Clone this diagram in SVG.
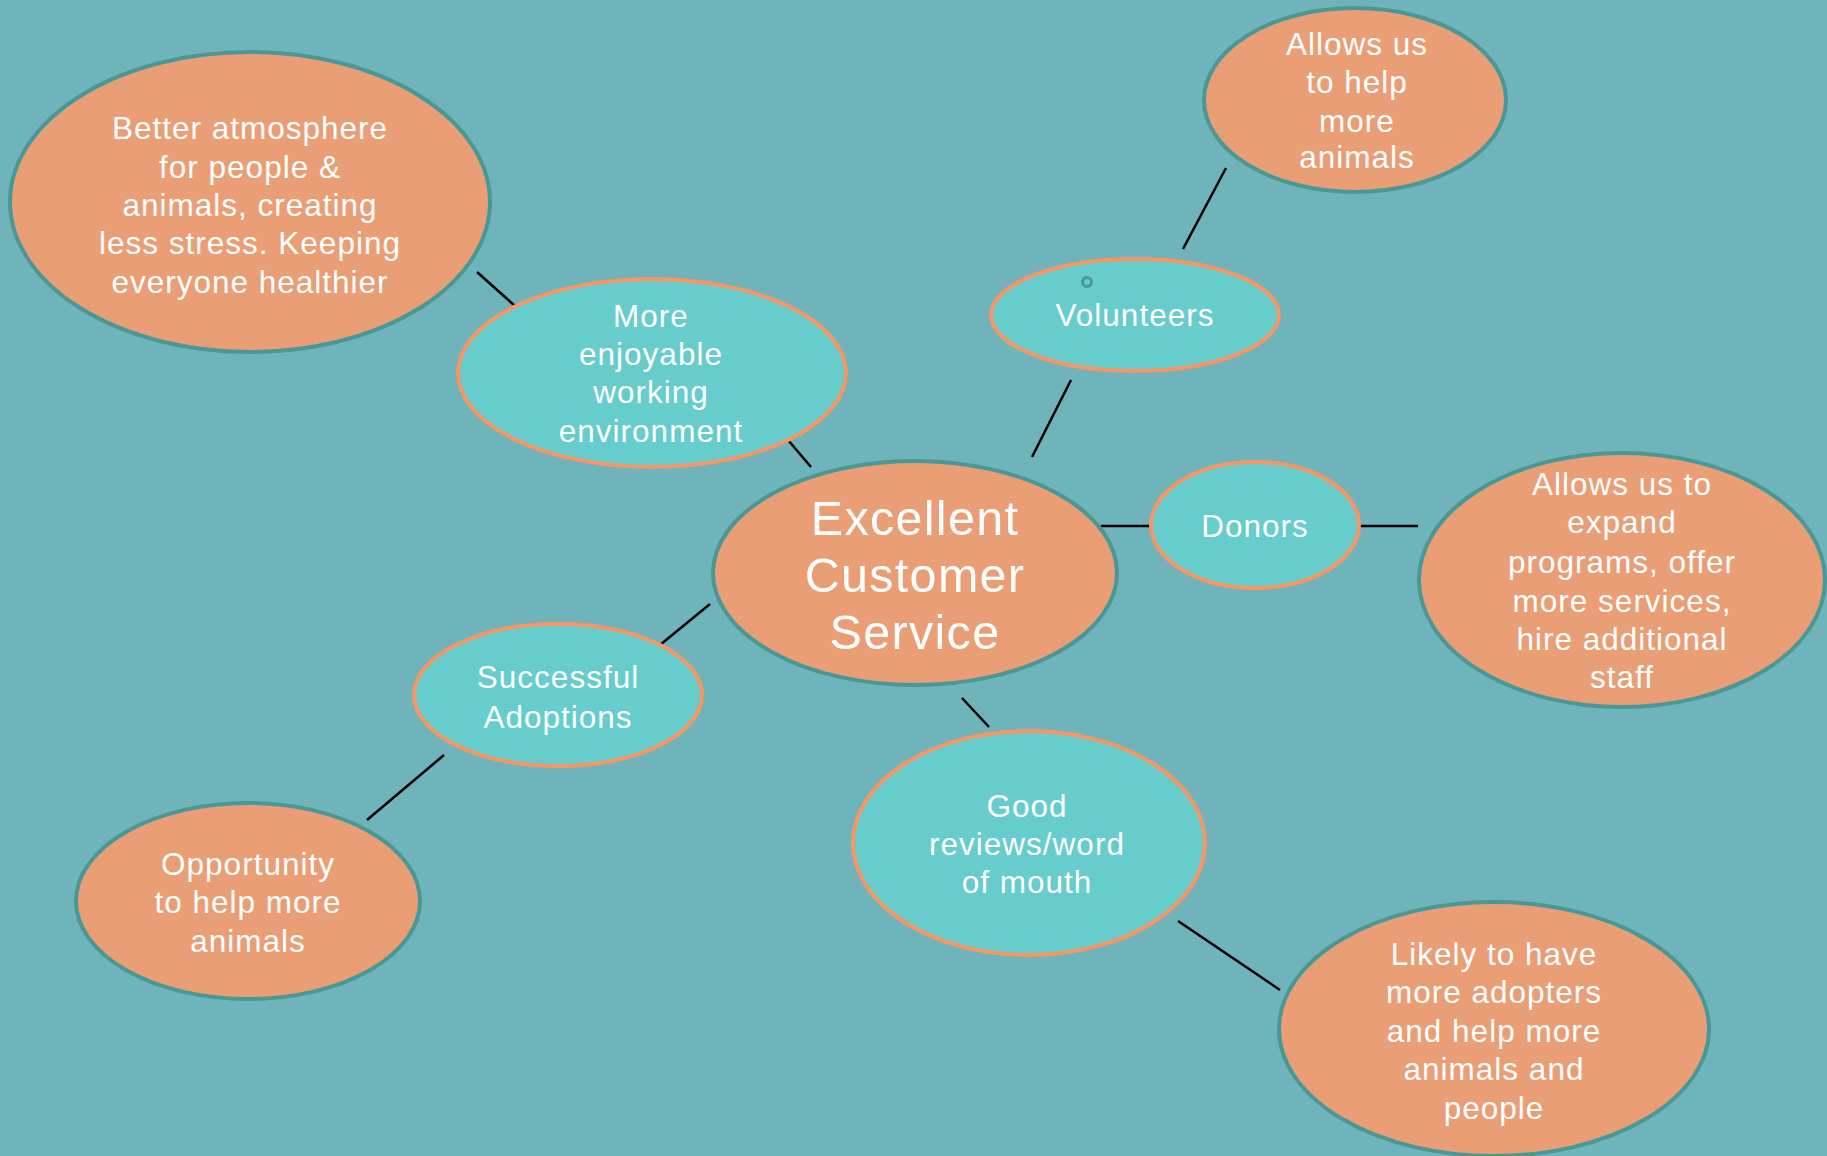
<svg xmlns="http://www.w3.org/2000/svg" width="1827" height="1156" viewBox="0 0 1827 1156">
  <style>
    .bg { fill: #6FB3BB; }
    .outcome { fill: #EA9E75; stroke: #4A9896; stroke-width: 4; }
    .factor { fill: #66CCCC; stroke: #F79664; stroke-width: 4; }
    .label { font-family: "Liberation Sans", Arial, sans-serif; font-size: 31.5px; letter-spacing: 1px; fill: #FFFFFF; text-anchor: middle; }
    .title { font-size: 48.5px; letter-spacing: 1.3px; }
    .link { stroke: #000000; stroke-width: 2.5; fill: none; }
  </style>

  <rect class="bg" x="0" y="0" width="1827" height="1156"/>

  <!-- connectors -->
  <g id="connectors">
    <line class="link" x1="477" y1="272" x2="515" y2="306"/>
    <line class="link" x1="788" y1="440" x2="811" y2="467"/>
    <line class="link" x1="1226" y1="168" x2="1183" y2="249"/>
    <line class="link" x1="1071" y1="380" x2="1032" y2="457"/>
    <line class="link" x1="1101" y1="526" x2="1150" y2="526"/>
    <line class="link" x1="1360" y1="526" x2="1418" y2="526"/>
    <line class="link" x1="660" y1="645" x2="710" y2="604"/>
    <line class="link" x1="444" y1="755" x2="367" y2="820"/>
    <line class="link" x1="962" y1="698" x2="989" y2="727"/>
    <line class="link" x1="1178" y1="921" x2="1280" y2="990"/>
  </g>

  <!-- central topic -->
  <g id="node-excellent-customer-service">
    <ellipse class="outcome" cx="915" cy="573" rx="202" ry="112"/>
    <text class="label title"><tspan x="915" y="535">Excellent</tspan><tspan x="915" y="592">Customer</tspan><tspan x="915" y="649">Service</tspan></text>
  </g>

  <g id="node-better-atmosphere">
    <ellipse class="outcome" cx="250" cy="202" rx="240" ry="150"/>
    <text class="label"><tspan x="250" y="139">Better atmosphere</tspan><tspan x="250" y="178">for people &amp;</tspan><tspan x="250" y="216">animals, creating</tspan><tspan x="250" y="254">less stress. Keeping</tspan><tspan x="250" y="293">everyone healthier</tspan></text>
  </g>

  <g id="node-working-environment">
    <ellipse class="factor" cx="652" cy="373" rx="194" ry="94"/>
    <text class="label"><tspan x="651" y="327">More</tspan><tspan x="651" y="365">enjoyable</tspan><tspan x="651" y="403">working</tspan><tspan x="651" y="442">environment</tspan></text>
  </g>

  <g id="node-help-more-animals">
    <ellipse class="outcome" cx="1355" cy="100" rx="151" ry="92"/>
    <text class="label"><tspan x="1357" y="55">Allows us</tspan><tspan x="1357" y="93">to help</tspan><tspan x="1357" y="132">more</tspan><tspan x="1357" y="168">animals</tspan></text>
  </g>

  <g id="node-volunteers">
    <ellipse class="factor" cx="1135" cy="315" rx="144" ry="56"/>
    <circle cx="1087" cy="282" r="4.5" fill="none" stroke="#4A9896" stroke-width="3"/>
    <text class="label" x="1135" y="326">Volunteers</text>
  </g>

  <g id="node-donors">
    <ellipse class="factor" cx="1255" cy="525" rx="104" ry="63"/>
    <text class="label" x="1255" y="537">Donors</text>
  </g>

  <g id="node-expand-programs">
    <ellipse class="outcome" cx="1622" cy="580" rx="203" ry="127"/>
    <text class="label"><tspan x="1622" y="495">Allows us to</tspan><tspan x="1622" y="533">expand</tspan><tspan x="1622" y="573">programs, offer</tspan><tspan x="1622" y="612">more services,</tspan><tspan x="1622" y="650">hire additional</tspan><tspan x="1622" y="688">staff</tspan></text>
  </g>

  <g id="node-successful-adoptions">
    <ellipse class="factor" cx="558" cy="695" rx="144" ry="71"/>
    <text class="label"><tspan x="558" y="688">Successful</tspan><tspan x="558" y="728">Adoptions</tspan></text>
  </g>

  <g id="node-opportunity">
    <ellipse class="outcome" cx="248" cy="901" rx="172" ry="98"/>
    <text class="label"><tspan x="248" y="875">Opportunity</tspan><tspan x="248" y="913">to help more</tspan><tspan x="248" y="952">animals</tspan></text>
  </g>

  <g id="node-good-reviews">
    <ellipse class="factor" cx="1029" cy="843" rx="176" ry="112"/>
    <text class="label"><tspan x="1027" y="817">Good</tspan><tspan x="1027" y="855">reviews/word</tspan><tspan x="1027" y="893">of mouth</tspan></text>
  </g>

  <g id="node-more-adopters">
    <ellipse class="outcome" cx="1494" cy="1029" rx="215" ry="127"/>
    <text class="label"><tspan x="1494" y="965">Likely to have</tspan><tspan x="1494" y="1003">more adopters</tspan><tspan x="1494" y="1042">and help more</tspan><tspan x="1494" y="1080">animals and</tspan><tspan x="1494" y="1119">people</tspan></text>
  </g>
</svg>
